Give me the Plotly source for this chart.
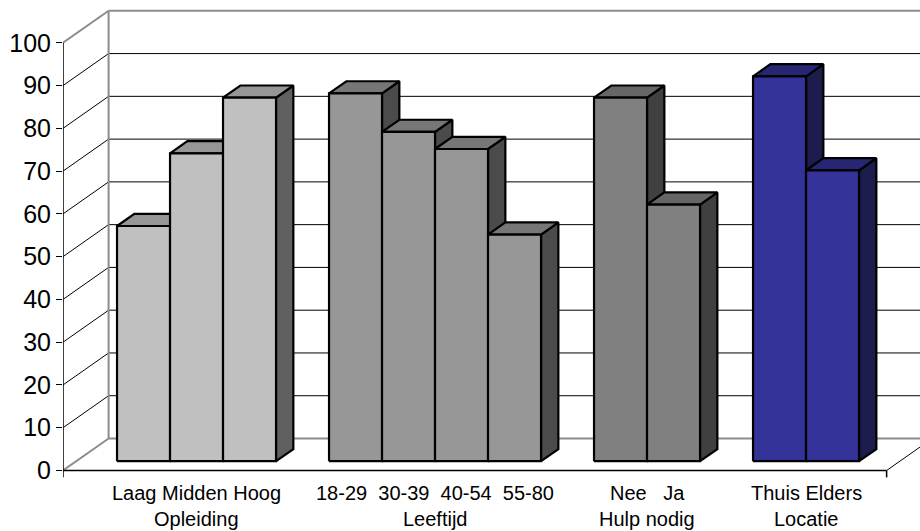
import plotly.graph_objects as go

# ---- data -------------------------------------------------------------
groups = ["Opleiding", "Leeftijd", "Hulp nodig", "Locatie"]
group_categories = [
    ["Laag", "Midden", "Hoog"],
    ["18-29", "30-39", "40-54", "55-80"],
    ["Nee", "Ja"],
    ["Thuis", "Elders"],
]
group_values = [
    [55, 72, 85],
    [86, 77, 73, 53],
    [85, 60],
    [90, 68],
]
# spacing between category names on the first label line
label_gaps = [" ", "\u00a0\u00a0", "\u00a0\u00a0\u00a0", " "]
y_ticks = [0, 10, 20, 30, 40, 50, 60, 70, 80, 90, 100]

# ---- styling ----------------------------------------------------------
face_colors = [  # (front, top, side)
    ("#C0C0C0", "#969696", "#606060"),
    ("#979797", "#777777", "#4B4B4B"),
    ("#808080", "#666666", "#404040"),
    ("#333399", "#262673", "#1C1C4D"),
]
W, H = 920, 531
LEFT = 63
PX_SLOT = 53.0          # pixels per category slot
PX_UNIT = 4.277         # pixels per value unit
ZERO_PX = 470.5         # pixel row of the front floor edge
DEPTH_DX = 45.6 / PX_SLOT   # oblique depth offset (x, slot units)
DEPTH_DY = 32.0 / PX_UNIT   # oblique depth offset (y, value units)
D_FRONT, D_BACK = 0.29, 0.67
FIRST_SLOT = 0.77
X_MAX = (W - LEFT) / PX_SLOT
Y_MAX = ZERO_PX / PX_UNIT
Y_MIN = (ZERO_PX - H) / PX_UNIT
FONT = "Liberation Sans, Arial, sans-serif"
WALL_GREY = "#8C8C8C"


def proj(x, v, d):
    """Oblique projection of (slot, value, depth) into the 2D axes."""
    return x + d * DEPTH_DX, v + d * DEPTH_DY


def v_of_px(p):
    return (ZERO_PX - p) / PX_UNIT


fig = go.Figure()


def line(xs, ys, color, width):
    fig.add_trace(go.Scatter(x=xs, y=ys, mode="lines",
                             line=dict(color=color, width=width),
                             hoverinfo="skip", showlegend=False))


def poly(pts, fill):
    xs = [p[0] for p in pts] + [pts[0][0]]
    ys = [p[1] for p in pts] + [pts[0][1]]
    fig.add_trace(go.Scatter(x=xs, y=ys, mode="lines", fill="toself",
                             fillcolor=fill, line=dict(color="black", width=2.2),
                             hoverinfo="skip", showlegend=False))


# ---- walls and gridlines ---------------------------------------------
n_slots = sum(len(c) for c in group_categories) + len(groups) - 1
floor_end = FIRST_SLOT * 2 + n_slots
far = X_MAX + 2
for v in y_ticks:
    grey = v in (0, 100)
    col = WALL_GREY if grey else "black"
    wid = 2 if grey else 1
    bx, by = proj(0, v, 1)
    line([0, bx], [v, by], col, wid)          # side wall
    line([bx, far], [by, by], col, wid)       # back wall
# back wall left edge
x0b, y0b = proj(0, 0, 1)
x1b, y1b = proj(0, 100, 1)
line([x0b, x1b], [y0b, y1b], WALL_GREY, 2)
# floor: front edge and right edge
fx, fy = proj(floor_end, 0, 1)
line([floor_end, fx], [0, fy], "black", 1)
line([0, floor_end], [0, 0], "black", 1.5)
line([floor_end, floor_end], [0, -1.6], "black", 1.5)
# value axis line
line([0, 0], [-1.6, 100], "black", 1.5)

# ---- bars --------------------------------------------------------------
annotations = []
slot = FIRST_SLOT
for g, (name, cats, vals) in enumerate(zip(groups, group_categories, group_values)):
    front, top, side = face_colors[g]
    start = slot
    for val in vals:
        xa, xb = slot, slot + 1
        poly([proj(xb, 0, D_FRONT), proj(xb, val, D_FRONT),
              proj(xb, val, D_BACK), proj(xb, 0, D_BACK)], side)
        poly([proj(xa, val, D_FRONT), proj(xb, val, D_FRONT),
              proj(xb, val, D_BACK), proj(xa, val, D_BACK)], top)
        poly([proj(xa, 0, D_FRONT), proj(xb, 0, D_FRONT),
              proj(xb, val, D_FRONT), proj(xa, val, D_FRONT)], front)
        slot += 1
    center = (start + slot) / 2 + D_FRONT * DEPTH_DX
    annotations.append(dict(x=center, y=v_of_px(493), xref="x", yref="y",
                            text=label_gaps[g].join(cats), showarrow=False,
                            font=dict(family=FONT, size=20, color="black")))
    annotations.append(dict(x=center, y=v_of_px(519), xref="x", yref="y",
                            text=name, showarrow=False,
                            font=dict(family=FONT, size=20, color="black")))
    slot += 1

fig.update_layout(
    width=W, height=H,
    margin=dict(l=LEFT, r=0, t=0, b=0),
    paper_bgcolor="white", plot_bgcolor="white",
    showlegend=False,
    annotations=annotations,
    xaxis=dict(range=[0, X_MAX], visible=False, fixedrange=True),
    yaxis=dict(range=[Y_MIN, Y_MAX], tickvals=y_ticks,
               ticktext=[str(t) for t in y_ticks],
               ticks="outside", ticklen=6, tickwidth=1, tickcolor="black",
               showgrid=False, zeroline=False, showline=False,
               tickfont=dict(family=FONT, size=25, color="black"),
               fixedrange=True),
)

fig.write_html("out.html")
